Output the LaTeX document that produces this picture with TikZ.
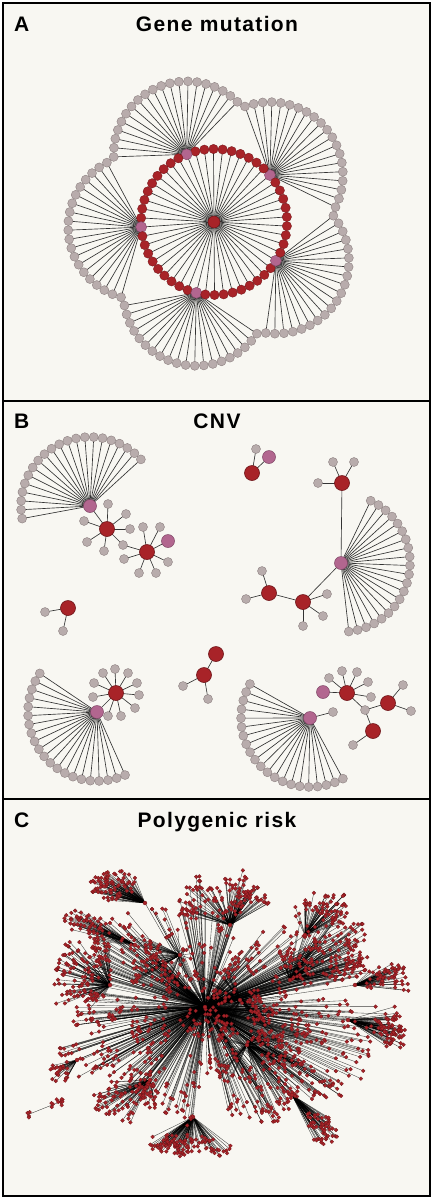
\documentclass[tikz,border=0pt]{standalone}
\usepackage{fontspec}
\setmainfont{Liberation Sans}
\newfontfamily\titlefont[LetterSpace=6.5]{Liberation Sans}
\pgfdeclarelayer{back}
\pgfdeclarelayer{bg}
\pgfsetlayers{back,bg,main}
\definecolor{paper}{HTML}{F8F7F2}
\definecolor{redfill}{HTML}{A82328}
\definecolor{redline}{HTML}{6E1418}
\definecolor{pinkfill}{HTML}{B2668F}
\definecolor{pinkline}{HTML}{7E4464}
\definecolor{grayfill}{HTML}{B8ACAC}
\definecolor{grayline}{HTML}{8C8080}
\definecolor{edgecol}{HTML}{333333}
\tikzset{
  frame/.style={draw=black, line width=2.4pt, fill=paper},
  ttl/.style={font=\titlefont\bfseries\fontsize{21}{21}\selectfont, inner sep=0pt},
  lbl/.style={font=\bfseries\fontsize{21}{21}\selectfont, inner sep=0pt},
  edge/.style={draw=edgecol, line width=0.65pt},
  cnode/.style={circle, fill=redfill, draw=redline, line width=0.5pt, minimum size=12pt, inner sep=0pt},
  rnode/.style={circle, fill=redfill, draw=redline, line width=0.3pt, minimum size=9.4pt, inner sep=0pt},
  pnode/.style={circle, fill=pinkfill, draw=pinkline, line width=0.4pt, minimum size=11pt, inner sep=0pt},
  gnode/.style={circle, fill=grayfill, draw=grayline, line width=0.4pt, minimum size=9pt, inner sep=0pt},
  bred/.style={circle, fill=redfill, draw=redline, line width=0.6pt, minimum size=15pt, inner sep=0pt},
  bpink/.style={circle, fill=pinkfill, draw=pinkline, line width=0.5pt, minimum size=13pt, inner sep=0pt},
  cedge/.style={draw=black, line width=0.35pt, opacity=0.75},
  cdot/.style={fill=redfill, draw=redline, line width=0.25pt},
}
\newcommand\bfan[4]{%
  \node[bpink] (#1) at (#2,#3) {};
  \foreach \j in {0,...,20}{%
    \pgfmathsetmacro\fb{#4-74+\j*7.4}%
    \pgfmathsetmacro\qx{#2+69*cos(\fb)}%
    \pgfmathsetmacro\qy{#3-69*sin(\fb)}%
    \node[gnode] (#1f\j) at (\qx,\qy) {};
  }%
  \begin{pgfonlayer}{bg}
  \foreach \j in {0,...,20}{\draw[edge] (#1.center) -- (#1f\j.center);}
  \end{pgfonlayer}
}
\newcommand\leafset[2]{%
  \foreach \lxx/\lyy [count=\k] in {#2}{%
    \node[gnode] (#1l\k) at (\lxx,\lyy) {};
  }%
  \begin{pgfonlayer}{bg}
  \foreach \lxx/\lyy [count=\k] in {#2}{\draw[edge] (#1.center) -- (#1l\k.center);}
  \end{pgfonlayer}
}
% panel C: hub name, hx, hy, clumps, per clump, cx, cy, rx, ry ; spread in \cspread
% pass 1 draws edges, pass 2 draws dots (same random sequence)
\newcommand\hubCedges[9]{%
  \coordinate (#1) at (#2,#3);
  \draw[cedge] (ch0) -- (#1);
  \foreach \c in {1,...,#4}{%
    \pgfmathsetmacro\ta{360*rnd}%
    \pgfmathsetmacro\tr{sqrt(rnd)}%
    \pgfmathsetmacro\mx{#6+#8*\tr*cos(\ta)}%
    \pgfmathsetmacro\my{#7+#9*\tr*sin(\ta)}%
    \foreach \k in {1,...,#5}{%
      \pgfmathsetmacro\lx{\mx+\cspread*rand}%
      \pgfmathsetmacro\ly{\my+\cspread*rand}%
      \draw[cedge] (#1) -- (\lx,\ly);
    }%
  }%
}
\newcommand\hubCdots[9]{%
  \foreach \c in {1,...,#4}{%
    \pgfmathsetmacro\ta{360*rnd}%
    \pgfmathsetmacro\tr{sqrt(rnd)}%
    \pgfmathsetmacro\mx{#6+#8*\tr*cos(\ta)}%
    \pgfmathsetmacro\my{#7+#9*\tr*sin(\ta)}%
    \foreach \k in {1,...,#5}{%
      \pgfmathsetmacro\lx{\mx+\cspread*rand}%
      \pgfmathsetmacro\ly{\my+\cspread*rand}%
      \fill[cdot] (\lx,\ly) circle (1.9pt);
    }%
  }%
  \fill[cdot] (#1) circle (2pt);
}
\newcommand\hubsC[1]{%
\def\cspread{8}%
#1{ch1}{145}{903}{9}{9}{120}{885}{25}{12}
#1{ch14}{135}{945}{6}{7}{85}{925}{25}{10}
#1{ch2}{290}{980}{16}{7}{330}{955}{55}{40}
#1{ch3}{247}{1045}{16}{7}{262}{1065}{55}{45}
\def\cspread{7}%
#1{ch4}{193}{1117}{13}{8}{195}{1145}{40}{7}
\def\cspread{8}%
#1{ch5}{348}{1020}{9}{8}{392}{1030}{16}{18}
#1{ch6}{77}{1060}{4}{6}{57}{1070}{8}{8}
#1{ch7}{292}{1095}{8}{7}{318}{1128}{14}{12}
#1{ch8}{110}{985}{14}{7}{85}{975}{28}{40}
#1{ch9}{230}{925}{14}{7}{225}{900}{45}{18}
#1{ch10}{150}{1080}{12}{7}{125}{1095}{35}{25}
#1{ch11}{305}{935}{9}{7}{315}{905}{30}{18}
#1{ch12}{180}{955}{10}{7}{165}{955}{40}{30}
#1{ch13}{355}{985}{8}{7}{378}{980}{25}{20}
#1{ch15}{240}{1000}{14}{7}{225}{1010}{60}{45}
\def\cspread{10}%
#1{ch0}{205}{1007}{135}{6}{220}{1000}{165}{125}
}
\begin{document}
\begin{tikzpicture}[x=1pt,y=-1pt]
\useasboundingbox (0,0) rectangle (433,1200);
\begin{pgfonlayer}{back}
\fill[white] (0,0) rectangle (433,1200);
\draw[frame] (3,3) rectangle (430,401);
\draw[frame] (3,401) rectangle (430,799);
\draw[frame] (3,799) rectangle (430,1196);
\end{pgfonlayer}
% titles
\node[lbl, anchor=base west] (labA) at (14,31) {A};
\node[ttl, anchor=base] (titA) at (217,31) {Gene mutation};
\node[lbl, anchor=base west] (labB) at (14,428) {B};
\node[ttl, anchor=base] (titB) at (217,428) {CNV};
\node[lbl, anchor=base west] (labC) at (14,827) {C};
\node[ttl, anchor=base] (titC) at (217,827) {Polygenic risk};
% ---------------- Panel A ----------------
\node[cnode] (ac) at (214,222) {};
\foreach \i in {0,...,49}{%
  \pgfmathsetmacro\ang{40+7.2*\i}%
  \pgfmathsetmacro\px{214+73*cos(\ang)}%
  \pgfmathsetmacro\py{222-73*sin(\ang)}%
  \pgfmathtruncatemacro\m{mod(\i,10)}%
  \ifnum\m=0
    \node[pnode] (ar\i) at (\px,\py) {};
    \foreach \j in {0,...,19}{%
      \pgfmathsetmacro\fb{\ang+2-68+\j*136/19}%
      \pgfmathsetmacro\qx{\px+73*cos(\fb)}%
      \pgfmathsetmacro\qy{\py-73*sin(\fb)}%
      \node[gnode] (af\i-\j) at (\qx,\qy) {};
    }%
  \else
    \node[rnode] (ar\i) at (\px,\py) {};
  \fi
}
\begin{pgfonlayer}{bg}
\foreach \i in {0,...,49}{\draw[edge] (ac.center) -- (ar\i.center);}
\foreach \i in {0,10,20,30,40}{\foreach \j in {0,...,19}{\draw[edge] (ar\i.center) -- (af\i-\j.center);}}
\end{pgfonlayer}
% ---------------- Panel B ----------------
% top-left
\bfan{pb1}{90}{506}{116.5}
\node[bred] (rb1) at (107,529) {};
\node[bred] (rb2) at (147,552) {};
\node[gnode] (gb1) at (123,545) {};
\node[bpink] (pb1b) at (168,541) {};
\leafset{rb1}{108/504,126/514,84/521,130/529,87/542,104/551}
\leafset{rb2}{143/527,160/527,124/559,168/562,139/573,156/573}
% top middle
\node[bred] (rb3) at (252,473) {};
\node[gnode] (gb3) at (256,449) {};
\node[bpink] (pb3b) at (269,457) {};
% right
\node[bred] (rb4) at (342,483) {};
\leafset{rb4}{333/462,354/462,318/483}
\bfan{pb2}{341}{563}{-9.5}
\node[bred] (rb5) at (303,602) {};
\node[bred] (rb6) at (269,593) {};
\leafset{rb5}{327/594,323/616,303/626}
\leafset{rb6}{262/571,246/599}
% left middle
\node[bred] (rb7) at (68,608) {};
\leafset{rb7}{45/612,63/631}
% center bottom
\node[bred] (rb8) at (216,654) {};
\node[bred] (rb9) at (204,675) {};
\leafset{rb9}{183/686,208/699}
% bottom left
\bfan{pb3}{97}{712}{220}
\node[bred] (rb10) at (116,693) {};
\leafset{rb10}{103/673,115/669,128/673,94/683,137/683,93/697,139/695,135/708,121/716,108/716}
% bottom right
\bfan{pb4}{310}{718}{224.5}
\node[gnode] (gb4) at (333,712) {};
\node[bpink] (pb5) at (323,692) {};
\node[bred] (rb11) at (347,693) {};
\node[gnode] (gb2) at (365,710) {};
\node[bred] (rb12) at (388,703) {};
\node[bred] (rb13) at (373,731) {};
\leafset{rb11}{329/678,342/671,357/672,368/682,371/697}
\leafset{rb12}{403/685,411/711}
\leafset{rb13}{353/745}
\begin{pgfonlayer}{bg}
\draw[edge] (pb1.center) -- (rb1.center);
\draw[edge] (rb1.center) -- (gb1.center) -- (rb2.center);
\draw[edge] (rb2.center) -- (pb1b.center);
\draw[edge] (rb3.center) -- (gb3.center);
\draw[edge] (rb3.center) -- (pb3b.center);
\draw[edge] (rb4.center) -- (pb2.center);
\draw[edge] (pb2.center) -- (rb5.center);
\draw[edge] (rb5.center) -- (rb6.center);
\draw[edge] (rb8.center) -- (rb9.center);
\draw[edge] (pb3.center) -- (rb10.center);
\draw[edge] (pb4.center) -- (gb4.center);
\draw[edge] (pb5.center) -- (rb11.center);
\draw[edge] (rb11.center) -- (gb2.center);
\draw[edge] (gb2.center) -- (rb12.center);
\draw[edge] (gb2.center) -- (rb13.center);
\end{pgfonlayer}
% ---------------- Panel C ----------------
\coordinate (ch0) at (205,1007);
\pgfmathsetseed{4242}
\hubsC{\hubCedges}
\coordinate (cb1) at (57,1103);
\coordinate (cb2) at (27,1115);
\draw[cedge] (cb1) -- (cb2);
\pgfmathsetseed{4242}
\hubsC{\hubCdots}
\foreach \k in {1,...,10}{%
  \pgfmathsetmacro\lx{57+6*rand}\pgfmathsetmacro\ly{1103+4*rand}%
  \fill[cdot] (\lx,\ly) circle (1.9pt);
}
\foreach \k in {1,...,4}{%
  \pgfmathsetmacro\lx{27+3*rand}\pgfmathsetmacro\ly{1115+3*rand}%
  \fill[cdot] (\lx,\ly) circle (1.9pt);
}
\end{tikzpicture}
\end{document}
